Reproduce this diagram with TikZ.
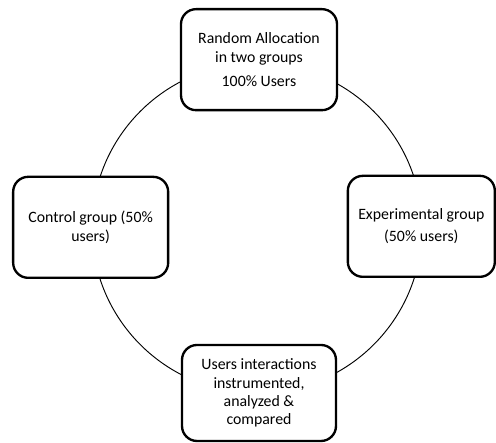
\documentclass[tikz,border=0pt]{standalone}
\usepackage{fontspec}
\setmainfont{Carlito}

\begin{document}
\begin{tikzpicture}[scale=1.0,
   phase/.style={draw, line width=2pt, rounded corners=0.45cm, fill=white,
                 align=center, inner sep=0pt, minimum height=3.03cm,
                 font=\fontsize{13.5}{15.5}\selectfont}]
  \useasboundingbox (0.0,0.0) rectangle (14.88,13.29);          % Page frame
  \draw[line width=0.8pt] (7.71,6.45) circle (4.95);              % Cycle ring

  \node[phase, minimum width=4.68cm] (alloc) at (7.77,11.50)
     {Random Allocation\\in two groups\\[0.18cm]100\% Users};       % Allocation step at top
  \node[phase, minimum width=4.65cm] (control) at (2.72,6.47)
     {Control group (50\%\\users)};                               % Control group at left
  \node[phase, minimum width=4.41cm] (exper) at (12.64,6.50)
     {Experimental group\\[0.12cm](50\% users)};                  % Experimental group at right
  \node[phase, minimum width=4.62cm, minimum height=2.88cm] (compare) at (7.77,1.50)
     {Users interactions\\instrumented,\\analyzed \&\\compared};  % Comparison step at bottom
\end{tikzpicture}
\end{document}
